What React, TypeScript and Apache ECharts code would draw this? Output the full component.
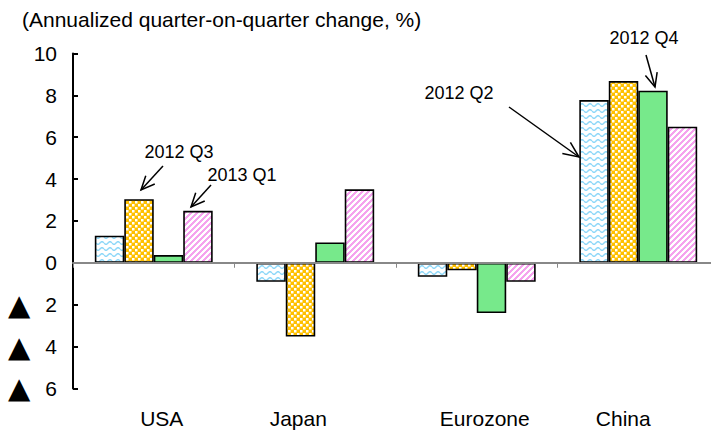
import React, { useEffect, useRef } from "react";
import * as echarts from "echarts";

const categories = ["USA", "Japan", "Eurozone", "China"];
const q2_2012 = [1.29, -0.91, -0.67, 7.77];
const q3_2012 = [3.04, -3.52, -0.36, 8.68];
const q4_2012 = [0.37, 0.97, -2.4, 8.22];
const q1_2013 = [2.48, 3.51, -0.91, 6.5];
const seriesNames = ["2012 Q2", "2012 Q3", "2012 Q4", "2013 Q1"];
const yMin = -6;
const yMax = 10;
const yInterval = 2;
const titleText = "(Annualized quarter-on-quarter change, %)";

const gridTop = 53.4;
const gridHeight = 335;

function makeCanvas(w: number, h: number, draw: (ctx: CanvasRenderingContext2D) => void) {
  const c = document.createElement("canvas");
  c.width = w;
  c.height = h;
  const ctx = c.getContext("2d") as CanvasRenderingContext2D;
  draw(ctx);
  return c;
}

function arrow(x1: number, y1: number, x2: number, y2: number, headLen = 15) {
  const ang = Math.atan2(y2 - y1, x2 - x1);
  const a = (24 * Math.PI) / 180;
  const p1 = [x2 - headLen * Math.cos(ang - a), y2 - headLen * Math.sin(ang - a)];
  const p2 = [x2 - headLen * Math.cos(ang + a), y2 - headLen * Math.sin(ang + a)];
  return [
    { type: "line", shape: { x1, y1, x2, y2 }, style: { stroke: "#000", lineWidth: 1.5 }, silent: true, z: 10 },
    { type: "polyline", shape: { points: [p1, [x2, y2], p2] }, style: { stroke: "#000", lineWidth: 1.5, fill: null }, silent: true, z: 10 },
  ];
}

function label(text: string, x: number, y: number) {
  return {
    type: "text",
    x,
    y,
    z: 10,
    style: { text, fill: "#000", font: '18px "Liberation Sans", Arial, sans-serif', align: "center", verticalAlign: "middle" },
    silent: true,
  };
}

export default function App() {
  const ref = useRef<HTMLDivElement>(null);
  useEffect(() => {
    document.body.style.margin = "0";
    if (!ref.current) return;
    const chart = echarts.init(ref.current, null, { renderer: "svg" });

    const wave = makeCanvas(8, 6, (ctx) => {
      ctx.fillStyle = "#fff";
      ctx.fillRect(0, 0, 8, 6);
      ctx.strokeStyle = "#8fd8f8";
      ctx.lineWidth = 1.5;
      ctx.beginPath();
      for (let i = 0; i <= 16; i++) {
        const x = i / 2;
        const y = 3 + 1.3 * Math.sin((2 * Math.PI * x) / 8);
        if (i === 0) ctx.moveTo(x, y);
        else ctx.lineTo(x, y);
      }
      ctx.stroke();
    });
    const checker = makeCanvas(12, 12, (ctx) => {
      ctx.fillStyle = "#FFC000";
      ctx.fillRect(0, 0, 12, 12);
      ctx.fillStyle = "#fff";
      for (let i = 0; i < 4; i++)
        for (let j = 0; j < 4; j++) if ((i + j) % 2 === 0) ctx.fillRect(i * 3, j * 3, 2.5, 2.5);
    });
    const stripes = makeCanvas(6, 6, (ctx) => {
      ctx.fillStyle = "#fff";
      ctx.fillRect(0, 0, 6, 6);
      ctx.fillStyle = "#F5A3EE";
      for (let x = 0; x < 6; x++)
        for (let y = 0; y < 6; y++) if ((x + y) % 6 < 3) ctx.fillRect(x, y, 1, 1);
    });

    const fills: any[] = [
      { image: wave, repeat: "repeat" },
      { image: checker, repeat: "repeat" },
      "#77E98B",
      { image: stripes, repeat: "repeat" },
    ];
    const data = [q2_2012, q3_2012, q4_2012, q1_2013];

    const catFont = { fontFamily: '"Liberation Sans", Arial, sans-serif', fontSize: 21, color: "#000" };
    const numFont = { fontFamily: '"Liberation Sans", Arial, sans-serif', fontSize: 21, color: "#000" };

    // distance from the grid top to the zero line, derived from the axis range
    const zeroOffset = (yMax / (yMax - yMin)) * gridHeight;

    chart.setOption({
      animation: false,
      grid: { left: 73, width: 646, top: gridTop, height: gridHeight, outerBoundsMode: "none", containLabel: false },
      xAxis: [
        {
          type: "category",
          data: categories,
          position: "bottom",
          axisLine: { show: false, onZero: false },
          axisTick: { show: false },
          axisLabel: {
            margin: 20,
            formatter: (v: string, i: number) => `{p${i}|${v}}`,
            rich: {
              p0: { ...catFont, padding: [0, 0, 0, 16] },
              p1: { ...catFont, padding: [0, 34, 0, 0] },
              p2: { ...catFont, padding: [0, 0, 0, 16] },
              p3: { ...catFont, padding: [0, 30, 0, 0] },
            },
          },
        },
        {
          type: "category",
          data: categories,
          position: "top",
          offset: -zeroOffset,
          axisLine: { show: true, onZero: false, lineStyle: { color: "#888", width: 2 } },
          axisTick: { show: true, inside: true, length: 5, lineStyle: { color: "#888", width: 1 } },
          axisLabel: { show: false },
          z: 5,
        },
      ],
      yAxis: {
        type: "value",
        min: yMin,
        max: yMax,
        interval: yInterval,
        axisLine: { show: true, lineStyle: { color: "#000", width: 2 } },
        axisTick: { show: true, inside: true, length: 5, lineStyle: { color: "#000", width: 2 } },
        splitLine: { show: false },
        axisLabel: {
          margin: 16,
          formatter: (v: number) => (v < 0 ? `{t|▲}{n|${-v}}` : `{n|${v}}`),
          rich: {
            t: { fontFamily: '"DejaVu Sans", sans-serif', fontSize: 29, color: "#000", padding: [0, 15, 0, 0] },
            n: numFont,
          },
        },
      },
      series: data.map((d, i) => ({
        name: seriesNames[i],
        type: "bar",
        xAxisIndex: 0,
        data: d,
        barGap: "0%",
        barCategoryGap: "27%",
        itemStyle: { color: fills[i], borderColor: "#000", borderWidth: 1.6 },
      })),
      graphic: [
        {
          type: "text",
          x: 22,
          y: 19,
          style: { text: titleText, fill: "#000", font: '21px "Liberation Sans", Arial, sans-serif', align: "left", verticalAlign: "middle" },
        },
        label("2012 Q3", 179, 152),
        label("2013 Q1", 242, 175),
        label("2012 Q2", 459, 93),
        label("2012 Q4", 644, 38),
        ...arrow(163, 166, 141, 190),
        ...arrow(211, 185, 191, 207),
        ...arrow(509, 107, 579, 157, 17),
        ...arrow(646, 55, 655, 87),
      ],
    });
    return () => chart.dispose();
  }, []);
  return <div ref={ref} style={{ width: 711, height: 430 }} />;
}
